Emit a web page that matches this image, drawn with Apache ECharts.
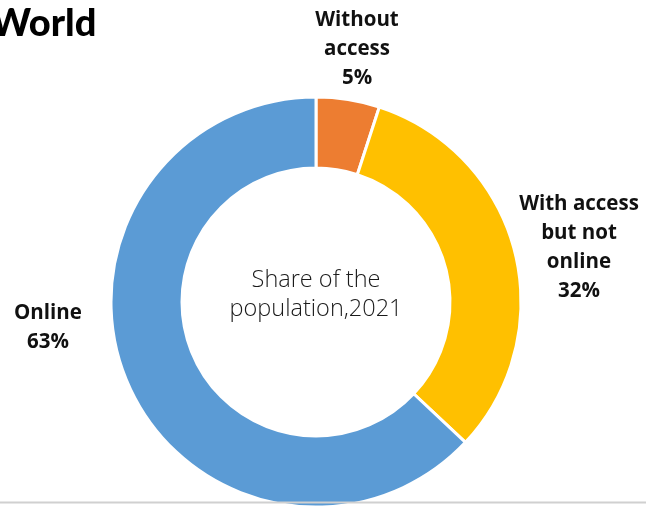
<!DOCTYPE html>
<html><head><meta charset="utf-8">
<script src="https://cdn.jsdelivr.net/npm/echarts@6/dist/echarts.min.js"></script>
<style>html,body{margin:0;padding:0;background:#fff}#c{width:646px;height:508px}</style>
</head><body><div id="c"></div>
<script>
const categories = ["Without\naccess", "With access\nbut not\nonline", "Online"];
const values = [5, 32, 63];
const colors = ["#ED7D31", "#FFC000", "#5B9BD5"];
const titleText = "World";
const centerText = "Share of the\npopulation,2021";
const labelPos = [[357, 49], [579, 248], [48, 328]];

const chart = echarts.init(document.getElementById('c'));
chart.setOption({
  animation: false,
  title: {
    text: titleText, left: -14, top: 0,
    textStyle: {fontFamily: 'Lato', fontWeight: 900, fontSize: 38, color: '#000'}
  },
  graphic: [
    {type: 'text', x: 316, y: 295, z: 10,
     style: {text: centerText, align: 'center', verticalAlign: 'middle',
       font: '300 23.5px "Open Sans"', fill: '#1a1a1a', lineHeight: 29}},
    {type: 'line', z: 100, shape: {x1: 0, y1: 502.5, x2: 646, y2: 502.5},
     style: {stroke: '#d0d0d0', lineWidth: 2}}
  ],
  series: [{
    type: 'pie',
    center: [316, 302],
    radius: [134, 205],
    startAngle: 90,
    clockwise: true,
    silent: true,
    itemStyle: {borderColor: '#fff', borderWidth: 3},
    label: {
      show: true, position: 'outside', overflow: 'none', width: 300,
      formatter: p => p.name + '\n' + p.value + '%',
      fontFamily: 'Open Sans', fontWeight: 'bold', fontSize: 20.5, color: '#111', lineHeight: 29,
      align: 'center'
    },
    labelLine: {show: false},
    labelLayout: p => ({x: labelPos[p.dataIndex][0], y: labelPos[p.dataIndex][1], align: 'center', verticalAlign: 'middle'}),
    data: categories.map((c, i) => ({name: c, value: values[i], itemStyle: {color: colors[i]}}))
  }]
});
</script></body></html>
